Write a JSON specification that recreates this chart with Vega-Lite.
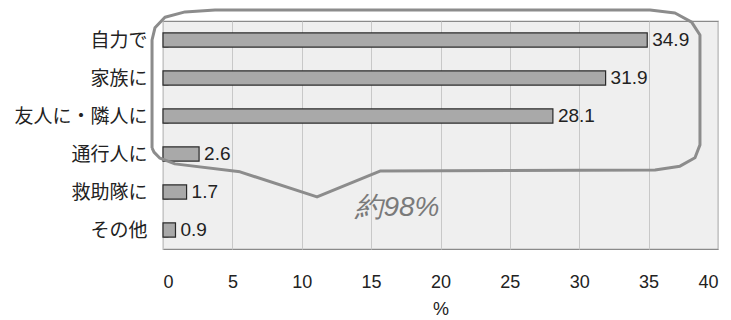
{
  "$schema": "https://vega.github.io/schema/vega-lite/v6.json",
  "width": 555,
  "height": 228,
  "autosize": {"type": "none"},
  "padding": {"left": 163, "top": 21, "right": 13, "bottom": 71},
  "background": "white",
  "config": {
    "view": {"fill": "#efefef", "stroke": "#8a8a8a", "strokeWidth": 1.2},
    "font": "Noto Sans CJK JP"
  },
  "datasets": {
    "bars": [
      {"cat": "自力で", "pct": 34.9},
      {"cat": "家族に", "pct": 31.9},
      {"cat": "友人に・隣人に", "pct": 28.1},
      {"cat": "通行人に", "pct": 2.6},
      {"cat": "救助隊に", "pct": 1.7},
      {"cat": "その他", "pct": 0.9}
    ],
    "bubble": [
      {"i": 1, "x": -0.79, "y": 3.34},
      {"i": 2, "x": -0.79, "y": 0.5},
      {"i": 3, "x": -0.58, "y": 0.18},
      {"i": 4, "x": 0.14, "y": -0.1},
      {"i": 5, "x": 1.59, "y": -0.24},
      {"i": 6, "x": 3.75, "y": -0.29},
      {"i": 7, "x": 35.1, "y": -0.29},
      {"i": 8, "x": 36.9, "y": -0.21},
      {"i": 9, "x": 38.1, "y": 0.03},
      {"i": 10, "x": 38.7, "y": 0.37},
      {"i": 11, "x": 38.7, "y": 3.26},
      {"i": 12, "x": 38.34, "y": 3.6},
      {"i": 13, "x": 37.26, "y": 3.82},
      {"i": 14, "x": 35.46, "y": 3.92},
      {"i": 15, "x": 15.64, "y": 3.95},
      {"i": 16, "x": 11.1, "y": 4.63},
      {"i": 17, "x": 5.55, "y": 3.97},
      {"i": 18, "x": 0.86, "y": 3.76},
      {"i": 19, "x": -0.22, "y": 3.61},
      {"i": 20, "x": -0.65, "y": 3.45},
      {"i": 21, "x": -0.79, "y": 3.34}
    ],
    "note": [{"label": "約98%", "x": 16.9, "y": 4.92}]
  },
  "layer": [
    {
      "data": {"name": "bars"},
      "layer": [
        {
          "mark": {"type": "bar", "fill": "#a9a9a9", "stroke": "#2a2a2a", "strokeWidth": 1.2},
          "encoding": {
            "y": {
              "field": "cat", "type": "nominal", "sort": null,
              "scale": {"paddingInner": 0.63, "paddingOuter": 0.315},
              "axis": {
                "title": null, "labelFontSize": 19, "labelColor": "#222",
                "labelPadding": 21, "ticks": true, "tickBand": "extent",
                "tickSize": -5, "tickColor": "#aaa", "domain": false,
                "labelFont": "Noto Sans CJK JP"
              }
            },
            "x": {
              "field": "pct", "type": "quantitative",
              "scale": {"domain": [0, 40], "nice": false},
              "axis": {
                "title": "%", "titleFontSize": 18, "titleFontWeight": "normal",
                "titleColor": "#222", "titlePadding": 9,
                "values": [0, 5, 10, 15, 20, 25, 30, 35, 40],
                "labelFontSize": 18, "labelColor": "#222", "labelPadding": 24,
                "labelFont": "Liberation Sans, sans-serif",
                "titleFont": "Liberation Sans, sans-serif",
                "ticks": false, "domain": false,
                "grid": true, "gridColor": "#c8c8c8", "gridWidth": 1
              }
            }
          }
        },
        {
          "mark": {"type": "text", "align": "left", "baseline": "middle", "dx": 5, "fontSize": 19,
                   "font": "Liberation Sans, sans-serif", "color": "#222"},
          "encoding": {
            "y": {"field": "cat", "type": "nominal", "sort": null},
            "x": {"field": "pct", "type": "quantitative"},
            "text": {"field": "pct", "type": "quantitative", "format": ".1f"}
          }
        }
      ]
    },
    {
      "layer": [
        {
          "data": {"name": "bubble"},
          "mark": {"type": "line", "stroke": "#8c8c8c", "strokeWidth": 3, "interpolate": "linear", "strokeJoin": "round"},
          "encoding": {
            "x": {"field": "x", "type": "quantitative", "scale": {"domain": [0, 40], "nice": false}},
            "y": {"field": "y", "type": "quantitative", "scale": {"domain": [0, 6], "reverse": true, "nice": false, "zero": false}, "axis": null},
            "order": {"field": "i", "type": "quantitative"}
          }
        },
        {
          "data": {"name": "note"},
          "mark": {"type": "text", "fontSize": 28, "fontStyle": "italic", "color": "#7a7a7a",
                   "font": "Liberation Sans, sans-serif", "align": "center", "baseline": "middle"},
          "encoding": {
            "x": {"field": "x", "type": "quantitative"},
            "y": {"field": "y", "type": "quantitative"},
            "text": {"field": "label"}
          }
        }
      ]
    }
  ],
  "resolve": {"scale": {"y": "independent"}}
}
